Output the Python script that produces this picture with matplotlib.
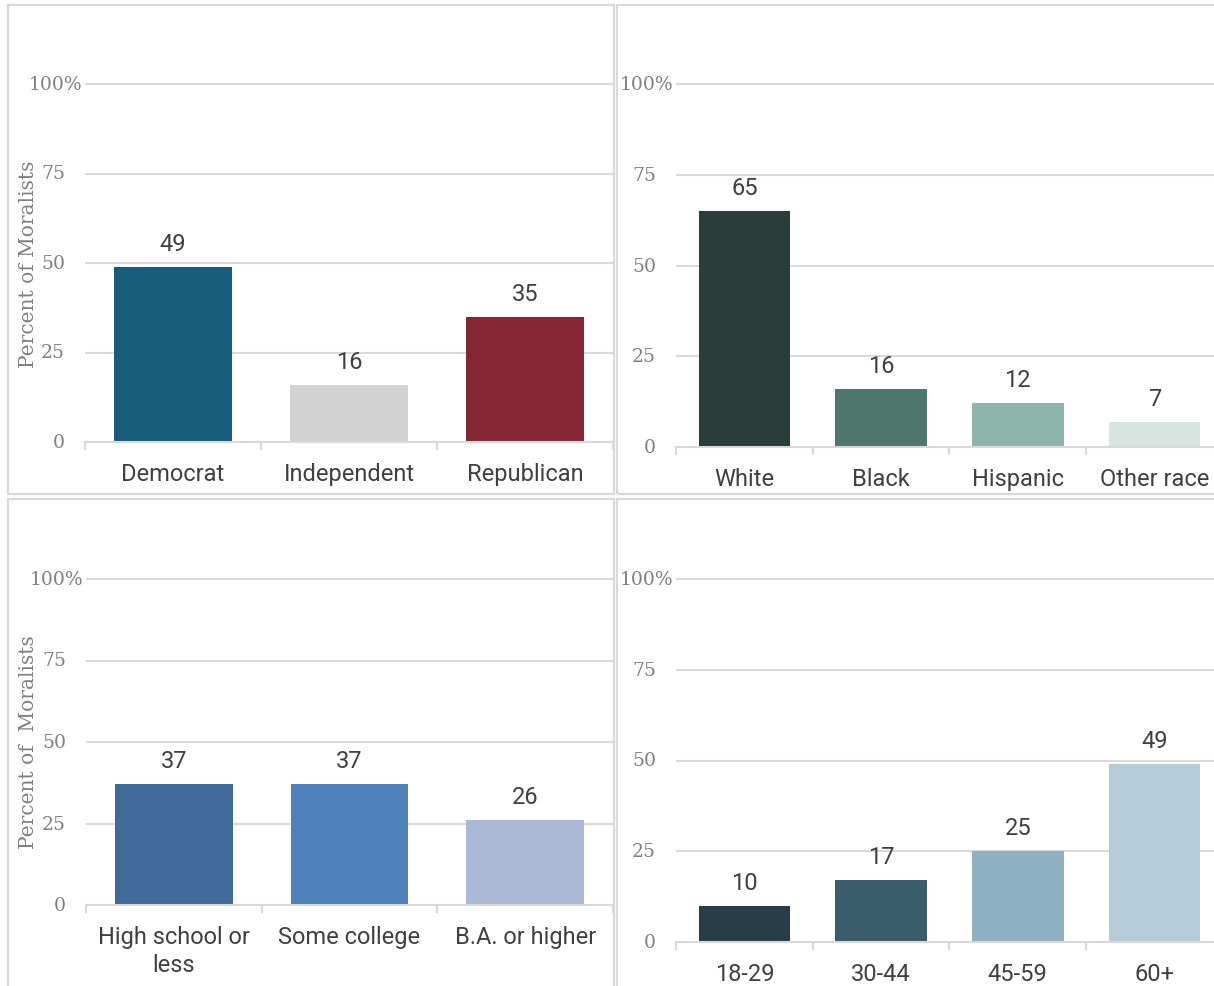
import matplotlib
matplotlib.use("Agg")
import matplotlib.pyplot as plt
from matplotlib.patches import Rectangle

# ---------------- data ----------------
party_labels = ["Democrat", "Independent", "Republican"]
party_values = [49, 16, 35]
party_colors = ["#175C7B", "#D3D3D3", "#852633"]

race_labels = ["White", "Black", "Hispanic", "Other race"]
race_values = [65, 16, 12, 7]
race_colors = ["#283E38", "#4F776E", "#8EB5AB", "#D6E5E0"]

edu_labels = ["High school or\nless", "Some college", "B.A. or higher"]
edu_values = [37, 37, 26]
edu_colors = ["#406A9A", "#4E80BA", "#A9B9D6"]

age_labels = ["18-29", "30-44", "45-59", "60+"]
age_values = [10, 17, 25, 49]
age_colors = ["#273E49", "#3A5C6C", "#8FB1C3", "#B4CCD8"]

ytick_values = [0, 25, 50, 75, 100]
ytick_labels = ["0", "25", "50", "75", "100%"]
ylabel_top = "Percent of Moralists"
ylabel_bottom = "Percent of  Moralists"

# ---------------- style ----------------
W, H = 1214, 987
GRID = "#D9D9D9"
TICKGRAY = "#808080"
TEXTDARK = "#404040"
SANS = "Roboto"
SERIF = "DejaVu Serif"

fig = plt.figure(figsize=(W / 100, H / 100), dpi=100)
fig.patch.set_facecolor("white")


def panel_border(x0, y0, x1, y1):
    fig.add_artist(Rectangle((x0 / W, 1 - y1 / H), (x1 - x0) / W, (y1 - y0) / H,
                             transform=fig.transFigure, fill=False,
                             ec=GRID, lw=1.6, zorder=0))


def make_panel(x0, x1, y_zero, y_hundred, labels, values, colors, ymax=108):
    ppu = (y_zero - y_hundred) / 100.0
    top = y_zero - ymax * ppu
    ax = fig.add_axes([x0 / W, (H - y_zero) / H, (x1 - x0) / W, (y_zero - top) / H])
    ax.set_facecolor("none")
    n = len(labels)
    x = list(range(n))
    ax.bar(x, values, width=0.67, color=colors, zorder=3)
    ax.set_xlim(-0.5, n - 0.5)
    ax.set_ylim(0, ymax)
    for s in ["left", "top", "right"]:
        ax.spines[s].set_visible(False)
    ax.spines["bottom"].set_color(GRID)
    ax.spines["bottom"].set_linewidth(1.5)
    ax.spines["bottom"].set_zorder(4)
    # gridlines
    ax.set_yticks(ytick_values)
    ax.set_yticklabels([])
    ax.tick_params(axis="y", length=0)
    ax.yaxis.grid(True, color=GRID, lw=1.5)
    ax.set_axisbelow(True)
    # y tick labels (percent sign hangs to the right)
    for v, t in zip(ytick_values, ytick_labels):
        dx = -3 if t.endswith("%") else -20
        ax.annotate(t, xy=(0, v), xycoords=ax.get_yaxis_transform(),
                    xytext=(dx, 0), textcoords="offset pixels",
                    ha="right", va="center", family=SERIF, size=13.5,
                    color=TICKGRAY)
    # x ticks
    ax.set_xticks(x)
    ax.set_xticklabels(labels, family=SANS, size=17, color=TEXTDARK,
                       linespacing=1.25)
    ax.tick_params(axis="x", which="major", length=0, pad=14.5)
    ax.set_xticks([i - 0.5 for i in range(n + 1)], minor=True)
    ax.tick_params(axis="x", which="minor", length=5.5, width=1.5, color=GRID)
    # value labels
    for xi, v in zip(x, values):
        ax.annotate(f"{v}", xy=(xi, v), xytext=(0, 17), textcoords="offset pixels",
                    ha="center", va="baseline", family=SANS, size=17,
                    color=TEXTDARK)
    return ax


# panel borders
panel_border(8, 6, 614, 495)
panel_border(617, 6, 1230, 495)
panel_border(8, 500, 614, 1000)
panel_border(617, 500, 1230, 1000)

cat_w4 = 136.7
make_panel(85, 613, 443, 85, party_labels, party_values, party_colors)
make_panel(676, 676 + 4 * cat_w4, 448, 85, race_labels, race_values, race_colors)
make_panel(86, 613, 906, 580, edu_labels, edu_values, edu_colors)
make_panel(676, 676 + 4 * cat_w4, 943, 580, age_labels, age_values, age_colors)

fig.text(29 / W, 1 - 264 / H, ylabel_top, rotation=90, ha="center", va="center",
         family=SERIF, size=14.5, color=TICKGRAY)
fig.text(29 / W, 1 - 742 / H, ylabel_bottom, rotation=90, ha="center", va="center",
         family=SERIF, size=14.5, color=TICKGRAY)

fig.savefig("out.png", dpi=100, facecolor="white")
